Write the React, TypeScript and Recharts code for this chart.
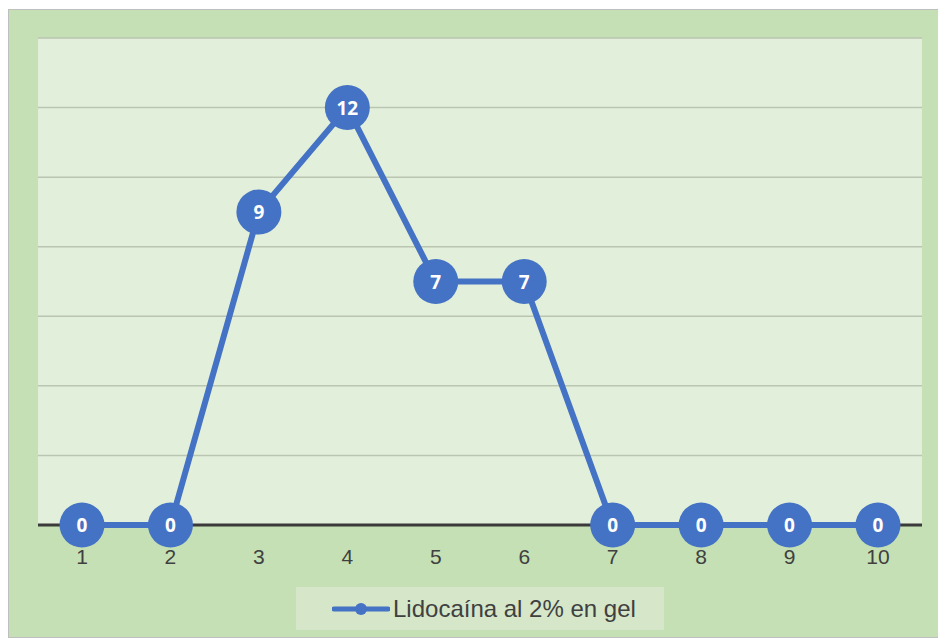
import { LineChart, Line, XAxis, YAxis, CartesianGrid, LabelList } from "recharts";

const days = ["1", "2", "3", "4", "5", "6", "7", "8", "9", "10"];
const lidocaina = [0, 0, 9, 12, 7, 7, 0, 0, 0, 0];
const yTicks = [0, 2, 4, 6, 8, 10, 12, 14];
const seriesName = "Lidocaína al 2% en gel";

const data = days.map((d, i) => ({ day: d, value: lidocaina[i] }));

const BLUE = "#4472c4";
const TEXT = "#404040";
const W = 936;
const H = 627;
const M = { top: 28, right: 23, bottom: 82, left: 29 };
const AXIS_H = 30;
const PLOT_BOTTOM = H - M.bottom - AXIS_H;

// category labels sit under the thick baseline
const DayTick = ({ x, y, payload }: any) => (
  <text x={x} y={y + 31} textAnchor="middle" fill={TEXT} fontSize={21} fontFamily="Liberation Sans, Arial, sans-serif">
    {payload.value}
  </text>
);

// value printed inside each round marker
const PointLabel = ({ x, y, value }: any) => (
  <text x={x} y={y + 7} textAnchor="middle" fill="#fff" fontSize={19} fontWeight="bold" fontFamily="Open Sans, sans-serif">
    {value}
  </text>
);

// grid lines; the zero line doubles as the dark baseline so the series stays on top of it
const GridLine = (p: any) => {
  const isBase = Math.abs(p.y1 - PLOT_BOTTOM) < 1;
  return (
    <line
      key={p.key}
      x1={p.x1}
      y1={p.y1}
      x2={p.x2}
      y2={p.y2}
      stroke={isBase ? "#3a3a3a" : "#bac5b2"}
      strokeWidth={isBase ? 3 : 1.5}
    />
  );
};

const LegendBox = () => (
  <div
    style={{
      position: "absolute",
      left: 287,
      top: 577,
      width: 368,
      height: 43,
      background: "#d5e6c9",
      display: "flex",
      alignItems: "center",
      fontFamily: "Liberation Sans, Arial, sans-serif",
      fontSize: 24,
      color: TEXT,
      boxSizing: "border-box",
      paddingLeft: 36,
    }}
  >
    <svg width={58} height={14} style={{ marginRight: 3 }}>
      <line x1={2} y1={7} x2={56} y2={7} stroke={BLUE} strokeWidth={5} strokeLinecap="round" />
      <circle cx={29} cy={7} r={6} fill={BLUE} />
    </svg>
    <span>{seriesName}</span>
  </div>
);

export default function App() {
  return (
    <div
      style={{
        position: "relative",
        marginTop: 1,
        width: 938,
        height: 629,
        border: "1px solid #bfbfbf",
        background: "#c5e0b4",
        boxSizing: "border-box",
      }}
    >
      <LineChart width={W} height={H} data={data} margin={M}>
        <CartesianGrid vertical={false} horizontal={GridLine} fill="#e2efda" />
        <YAxis hide domain={[0, 14]} ticks={yTicks} width={0} />
        <XAxis
          dataKey="day"
          height={AXIS_H}
          padding={{ left: 44, right: 44 }}
          axisLine={false}
          tickLine={false}
          tick={<DayTick />}
          interval={0}
        />
        <Line
          type="linear"
          dataKey="value"
          name={seriesName}
          stroke={BLUE}
          strokeWidth={6}
          dot={{ r: 22.5, fill: BLUE, stroke: "none" }}
          activeDot={false}
          isAnimationActive={false}
        >
          <LabelList dataKey="value" content={<PointLabel />} />
        </Line>
      </LineChart>
      <LegendBox />
    </div>
  );
}
